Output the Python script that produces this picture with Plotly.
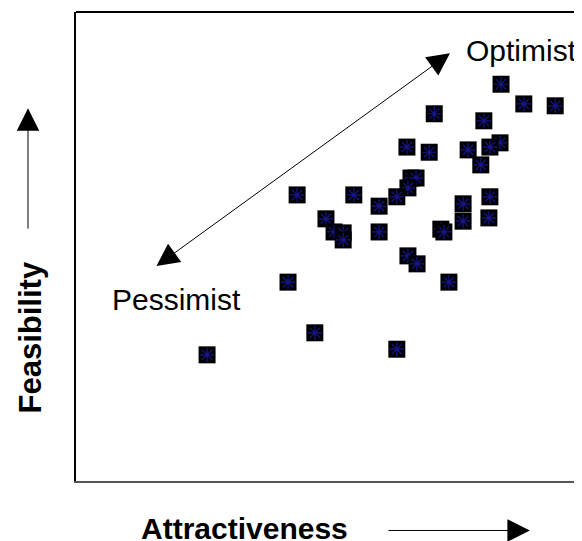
import plotly.graph_objects as go

# Attractiveness (x) and Feasibility (y) on a 0-10 scale
attractiveness = [8.40, 8.85, 9.47, 7.08, 8.06, 8.38, 8.18, 7.75, 6.54, 6.98,
                  8.00, 6.62, 6.72, 6.56, 6.34, 4.37, 5.49, 5.99, 4.94, 5.10,
                  5.28, 5.28, 5.99, 7.21, 7.27, 7.65, 7.65, 8.18, 8.16, 6.56,
                  6.74, 4.19, 7.37, 4.72, 6.34, 2.59]
feasibility = [8.46, 8.04, 8.00, 7.83, 7.68, 7.21, 7.12, 7.06, 7.12, 7.01,
               6.74, 6.46, 6.46, 6.25, 6.06, 6.10, 6.10, 5.86, 5.59, 5.31,
               5.29, 5.14, 5.31, 5.37, 5.31, 5.91, 5.54, 6.06, 5.61, 4.80,
               4.63, 4.24, 4.24, 3.16, 2.81, 2.69]

FONT = "Liberation Sans, Arial, sans-serif"
NAVY = "#16168a"

fig = go.Figure()
for xv, yv in zip(attractiveness, feasibility):
    fig.add_trace(go.Scatter(x=[xv], y=[yv], mode="markers", hoverinfo="skip",
                             marker=dict(symbol="square", size=17, color="black",
                                         line=dict(width=0))))
    fig.add_trace(go.Scatter(x=[xv], y=[yv], mode="markers", hoverinfo="skip",
                             marker=dict(symbol="asterisk-open", size=12, color=NAVY,
                                         line=dict(color=NAVY, width=1.2))))

def label(x, y, text, size, angle=0):
    return dict(x=x, y=y, xref="paper", yref="paper", text=text, textangle=angle,
                xanchor="center", yanchor="middle", showarrow=False,
                font=dict(family=FONT, size=size, color="black"))

def arrow(x, y, ax, ay):
    return dict(x=x, y=y, ax=ax, ay=ay, xref="x domain", yref="y domain",
                axref="x domain", ayref="y domain", showarrow=True, arrowhead=2,
                arrowsize=4.5, arrowwidth=1, arrowcolor="black", text="")

annotations = [
    # diagonal double-headed arrow
    dict(x=7.39, y=9.12, ax=1.56, ay=4.56, xref="x", yref="y", axref="x", ayref="y",
         showarrow=True, arrowside="end+start", arrowhead=2, startarrowhead=2,
         arrowsize=4.5, startarrowsize=4.5, arrowwidth=1, arrowcolor="black", text=""),
    label(0.866, 0.917, "Optimist", 30),
    label(0.1946, 0.387, "Pessimist", 30),
    label(0.327, -0.1015, "<b>Attractiveness</b>", 30),
    label(-0.0895, 0.306, "<b>Feasibility</b>", 31, angle=-90),
    arrow(0.883, -0.1055, 0.605, -0.1055),
    arrow(-0.0934, 0.795, -0.0934, 0.535),
]

fig.update_layout(
    width=582, height=541,
    margin=dict(l=68, r=0, t=4, b=68, autoexpand=False),
    paper_bgcolor="white", plot_bgcolor="white",
    showlegend=False,
    annotations=annotations,
    xaxis=dict(range=[0, 10.158], showgrid=False, zeroline=False, showticklabels=False,
               ticks="", showline=True, linecolor="#555555", linewidth=2),
    yaxis=dict(range=[0, 10], showgrid=False, zeroline=False, showticklabels=False,
               ticks="", showline=True, linecolor="black", linewidth=2),
    shapes=[dict(type="line", xref="paper", yref="paper", x0=0, x1=1, y0=1, y1=1,
                 line=dict(color="black", width=2))],
)

fig.write_html("out.html")
